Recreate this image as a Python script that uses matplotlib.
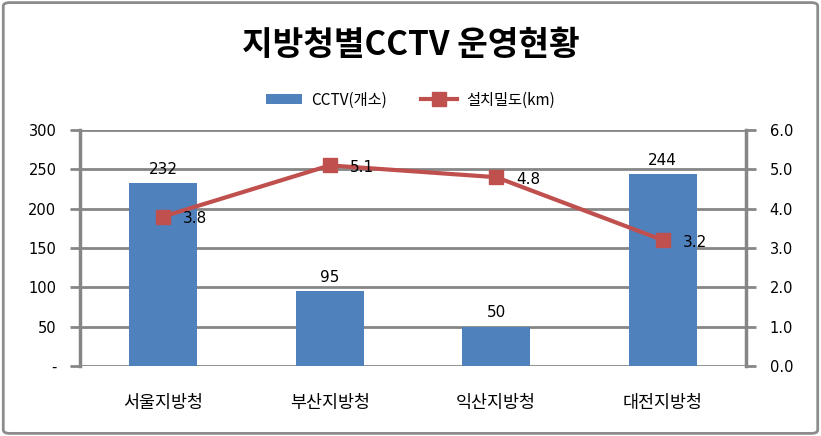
import numpy as np
import matplotlib
matplotlib.use("Agg")
import matplotlib.pyplot as plt
from matplotlib.patches import FancyBboxPatch

plt.rcParams['font.family'] = ['DejaVu Sans', 'Noto Sans CJK KR']

offices = ['서울지방청', '부산지방청', '익산지방청', '대전지방청']
cctv = [232, 95, 50, 244]
density = [3.8, 5.1, 4.8, 3.2]

grid_c = '#868686'
bar_c = '#4F81BD'
line_c = '#C0504D'

fig = plt.figure(figsize=(8.21, 4.36), dpi=100)
ax = fig.add_axes([80 / 821, 1 - 366 / 436, 666 / 821, 236 / 436])
ax2 = ax.twinx()

x = np.arange(len(offices))
bars = ax.bar(x, cctv, width=0.41, color=bar_c, zorder=2, label='CCTV(개소)')
ax.set_xlim(-0.5, 3.5)
ax.set_ylim(0, 300)
ax.set_yticks(np.arange(0, 301, 50))
ax.set_yticklabels(['-'] + [str(v) for v in range(50, 301, 50)])
ax.yaxis.grid(True, color=grid_c, linewidth=2)
ax.set_axisbelow(True)
ax.set_xticks(x)
ax.set_xticklabels(offices, fontsize=12.5, family=['Noto Sans CJK KR'])
ax.tick_params(axis='x', length=0, pad=20)
ax.tick_params(axis='y', length=7, width=2, color=grid_c, labelsize=10.5, pad=10)
for s in ['top', 'right', 'bottom']:
    ax.spines[s].set_visible(False)
ax.spines['left'].set_color(grid_c)
ax.spines['left'].set_linewidth(2.5)
for xi, v in zip(x, cctv):
    ax.text(xi, v + 8, str(v), ha='center', va='bottom', fontsize=11)

ln, = ax2.plot(x, density, color=line_c, linewidth=3, marker='s', markersize=10,
               label='설치밀도(km)', zorder=3)
ax2.set_ylim(0, 6)
ax2.set_yticks(np.arange(0, 6.01, 1))
ax2.set_yticklabels(['%.1f' % v for v in np.arange(0, 6.01, 1)])
ax2.tick_params(axis='y', length=7, width=2, color=grid_c, labelsize=10.5, pad=10)
for s in ['top', 'left', 'bottom']:
    ax2.spines[s].set_visible(False)
ax2.spines['right'].set_color(grid_c)
ax2.spines['right'].set_linewidth(2.5)
for xi, v in zip(x, density):
    ax2.text(xi + 0.12, v - 0.05, '%.1f' % v, ha='left', va='center', fontsize=11)

fig.text(0.5, 1 - 45 / 436, '지방청별CCTV 운영현황', ha='center', va='center',
         fontsize=24, fontweight='bold', family=['Noto Sans CJK KR'])

fig.legend([bars, ln], ['CCTV(개소)', '설치밀도(km)'], loc='center',
           bbox_to_anchor=(0.5, 1 - 100 / 436), ncol=2, frameon=False,
           handlelength=2.4, handletextpad=0.6, columnspacing=2.2,
           prop={'family': ['Noto Sans CJK KR'], 'size': 11})

border = FancyBboxPatch((0.004, 0.006), 0.992, 0.988,
                        boxstyle='round,pad=0,rounding_size=0.008',
                        transform=fig.transFigure, fill=False,
                        edgecolor='#8C8C8C', linewidth=2)
fig.patches.append(border)

fig.savefig('out.png', dpi=100)
